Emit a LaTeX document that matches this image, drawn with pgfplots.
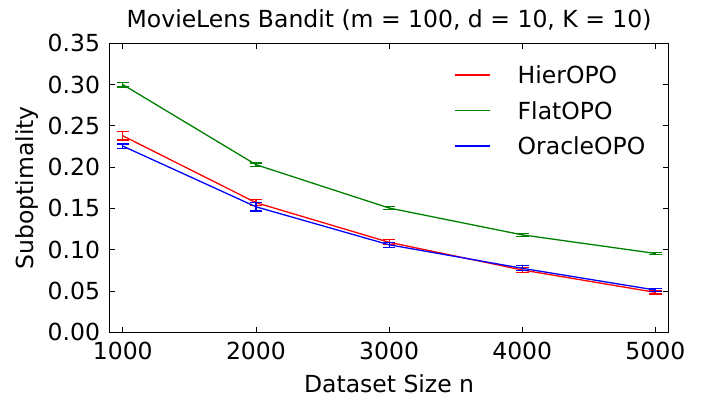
\documentclass[border=0pt]{standalone}
\usepackage{fontspec}
\setmainfont{DejaVu Sans}
\usepackage{pgfplots}
\pgfplotsset{compat=1.18}
\definecolor{mplgreen}{rgb}{0,0.5,0}
\begin{document}
\begin{tikzpicture}
\begin{axis}[
  scale only axis, width=559.2pt, height=289pt,
  xmin=900, xmax=5100, ymin=0, ymax=0.35,
  xtick={1000,2000,3000,4000,5000},
  ytick={0,0.05,0.10,0.15,0.20,0.25,0.30,0.35},
  /pgf/number format/assume math mode=true,
  xticklabel style={/pgf/number format/.cd,fixed,set thousands separator={}},
  yticklabel style={/pgf/number format/.cd,fixed,fixed zerofill,precision=2},
  scaled ticks=false,
  tick align=inside, major tick length=5.5pt,
  tick style={line width=0.8pt, black},
  axis line style={line width=1pt},
  every tick label/.append style={font=\fontsize{23.5}{27}\selectfont, inner sep=0pt, outer sep=0pt},
  xticklabel shift=9.4pt, yticklabel shift=9.5pt,
  title={MovieLens Bandit (m = 100, d = 10, K = 10)},
  title style={font=\fontsize{23.5}{27}\selectfont, at={(axis description cs:0.5,1.0346)}, anchor=base, inner sep=0pt},
  xlabel={Dataset Size n},
  xlabel style={font=\fontsize{23.5}{27}\selectfont, at={(axis description cs:0.5,-0.209)}, anchor=base, inner sep=0pt},
  ylabel={Suboptimality},
  ylabel style={font=\fontsize{23.5}{27}\selectfont, at={(axis description cs:-0.1368,0.5)}, rotate=0, anchor=base, inner sep=0pt},
  legend style={draw=none, fill=none, at={(axis description cs:0.6170,0.9204)}, anchor=north west,
    font=\fontsize{23.5}{27}\selectfont, inner sep=0pt, row sep=18.5pt, column sep=26.7pt,
    nodes={inner sep=0pt, text height=17pt, text depth=0pt}},
  legend image code/.code={\draw[#1, line width=1.3pt] (0pt,0pt) -- (35pt,0pt);},
  legend cell align=left,
  error bars/error bar style={line width=1.2pt},
  error bars/error mark options={line width=1.2pt, mark size=6.3pt, rotate=90},
]
\addplot[red, line width=1.3pt, error bars/.cd, y dir=both, y explicit] coordinates {
  (1000,0.238) +- (0,0.005)
  (2000,0.157) +- (0,0.0035)
  (3000,0.109) +- (0,0.003)
  (4000,0.0755) +- (0,0.003)
  (5000,0.0484) +- (0,0.002)
};
\addlegendentry{HierOPO}
\addplot[mplgreen, line width=1.3pt, error bars/.cd, y dir=both, y explicit] coordinates {
  (1000,0.300) +- (0,0.003)
  (2000,0.203) +- (0,0.002)
  (3000,0.1505) +- (0,0.002)
  (4000,0.118) +- (0,0.002)
  (5000,0.0955) +- (0,0.0015)
};
\addlegendentry{FlatOPO}
\addplot[blue, line width=1.3pt, error bars/.cd, y dir=both, y explicit] coordinates {
  (1000,0.2255) +- (0,0.0025)
  (2000,0.152) +- (0,0.005)
  (3000,0.106) +- (0,0.003)
  (4000,0.0775) +- (0,0.003)
  (5000,0.0512) +- (0,0.002)
};
\addlegendentry{OracleOPO}
\end{axis}
\path (-109.5pt,-79.7pt) rectangle (591.5pt,332.3pt);
\end{tikzpicture}
\end{document}
